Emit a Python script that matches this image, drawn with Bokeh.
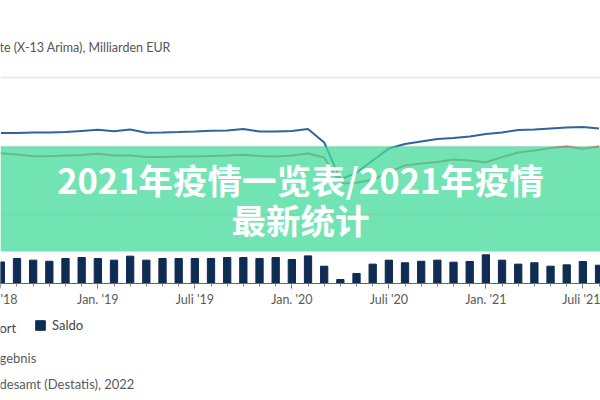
from bokeh.plotting import figure
from bokeh.models import (Range1d, FixedTicker, Label, BoxAnnotation, Legend,
                          LegendItem, Grid, ColumnDataSource)
from bokeh.embed import file_html
from bokeh.resources import INLINE

# ---- data (Milliarden EUR, saisonbereinigt) ----
months = ["2018-07", "2018-08", "2018-09", "2018-10", "2018-11", "2018-12",
          "2019-01", "2019-02", "2019-03", "2019-04", "2019-05", "2019-06",
          "2019-07", "2019-08", "2019-09", "2019-10", "2019-11", "2019-12",
          "2020-01", "2020-02", "2020-03", "2020-04", "2020-05", "2020-06",
          "2020-07", "2020-08", "2020-09", "2020-10", "2020-11", "2020-12",
          "2021-01", "2021-02", "2021-03", "2021-04", "2021-05", "2021-06",
          "2021-07", "2021-08"]
export = [109.5, 109.6, 110.0, 110.0, 110.3, 111.1,
          111.9, 110.9, 112.2, 109.8, 110.0, 110.3,
          110.7, 111.2, 111.4, 112.5, 110.7, 110.7,
          111.1, 112.5, 102.7, 75.8, 80.6, 89.6,
          98.3, 101.6, 103.4, 105.2, 106.0, 107.1,
          108.9, 110.0, 111.8, 112.2, 112.9, 113.6,
          114.0, 112.9]
importe = [94.9, 94.0, 92.7, 92.7, 93.2, 93.6,
           94.5, 93.2, 93.2, 92.1, 92.1, 92.5,
           92.5, 92.9, 93.2, 93.7, 92.9, 92.5,
           93.2, 94.7, 91.8, 72.9, 73.3, 75.5,
           81.3, 85.9, 87.4, 88.5, 90.3, 89.6,
           88.3, 92.0, 95.4, 96.9, 98.7, 99.8,
           98.1, 99.8]
saldo = [15.7, 18.2, 17.0, 16.2, 18.2, 18.9,
         18.2, 17.0, 19.9, 17.0, 18.2, 18.2,
         18.2, 18.2, 18.9, 18.9, 18.2, 18.9,
         17.5, 20.1, 12.6, 2.9, 7.3, 14.1,
         17.0, 15.1, 16.2, 17.0, 15.5, 16.0,
         20.9, 17.0, 14.1, 15.1, 12.6, 13.6,
         16.0, 13.3]
tick_months = ["2018-07", "2019-01", "2019-07", "2020-01", "2020-07", "2021-01", "2021-07"]
tick_labels = ["'18", "Jan. '19", "Juli '19", "Jan. '20", "Juli '20", "Jan. '21", "Juli '21"]
grid_values = [50, 100, 150]


def month_index(s):
    y, m = s.split("-")
    return (int(y) - 2019) * 12 + int(m) - 1


x = [month_index(m) for m in months]
src = ColumnDataSource(dict(x=x, export=export, importe=importe, saldo=saldo))

FONT = "Lato"
GRAY = "#5a5a5a"

p = figure(width=600, height=400, output_backend="svg", toolbar_location=None,
           x_range=Range1d(-6.02, 31.09), y_range=Range1d(-85.19, 206.07),
           min_border=0, y_axis_location=None, title=None,
           outline_line_color=None, background_fill_color="white",
           border_fill_color="white")

p.xgrid.visible = False
p.ygrid.visible = False
p.add_layout(Grid(dimension=1, ticker=FixedTicker(ticks=grid_values),
                  grid_line_color="#e4e4e4", grid_line_width=1.5))

r_sal = p.vbar(x="x", top="saldo", width=0.45, source=src, color="#0f2c52")
r_exp = p.line(x="x", y="export", source=src, line_width=2, color="#33639a")
r_imp = p.line(x="x", y="importe", source=src, line_width=2, color="#d9525e")

ax = p.xaxis[0]
ax.fixed_location = 0
major_x = [month_index(m) for m in tick_months]
ax.ticker = FixedTicker(ticks=major_x, minor_ticks=x)
ax.major_label_overrides = {t: l for t, l in zip(major_x, tick_labels)}
ax.axis_line_color = "#666666"
ax.major_tick_line_color = "#666666"
ax.minor_tick_line_color = "#888888"
ax.major_tick_out = 5
ax.major_tick_in = 0
ax.minor_tick_out = 3
ax.minor_tick_in = 0
ax.major_label_standoff = 3
ax.major_label_text_font = FONT
ax.major_label_text_font_size = "12.5px"
ax.major_label_text_color = GRAY

legend = Legend(items=[LegendItem(label="Saldo", renderers=[r_sal])],
                orientation="horizontal", location=(34, 67), padding=0, margin=0,
                spacing=21, glyph_width=12, glyph_height=12, label_standoff=6,
                label_height=12, label_text_font=FONT, label_text_font_size="13px",
                label_text_color="#444444", background_fill_alpha=0,
                border_line_color=None)
p.add_layout(legend)

p.add_layout(Label(x=-1, y=73, x_units="screen", y_units="screen",
                   text="ort", text_font=FONT,
                   text_font_size="13px", text_color="#444444", text_baseline="middle"))
p.add_layout(Label(x=-1, y=353, x_units="screen", y_units="screen",
                   text="te (X-13 Arima), Milliarden EUR", text_font=FONT,
                   text_font_size="12.5px", text_color="#555555", text_baseline="middle"))
p.add_layout(Label(x=-1, y=43, x_units="screen", y_units="screen",
                   text="gebnis", text_font=FONT,
                   text_font_size="13px", text_color=GRAY, text_baseline="middle"))
p.add_layout(Label(x=-1, y=17, x_units="screen", y_units="screen",
                   text="desamt (Destatis), 2022", text_font=FONT,
                   text_font_size="13px", text_color=GRAY, text_baseline="middle"))

# banner overlay
p.add_layout(BoxAnnotation(bottom=23.3, top=99.8, fill_color="#43db9b",
                           fill_alpha=0.75, line_color=None, level="overlay"))
p.add_layout(Label(x=300, y=222, x_units="screen", y_units="screen",
                   text="2021年疫情一览表/2021年疫情", text_font="Noto Sans CJK SC",
                   text_font_style="bold", text_font_size="34.5px", text_color="white",
                   text_align="center", text_baseline="middle", level="overlay"))
p.add_layout(Label(x=300, y=182, x_units="screen", y_units="screen",
                   text="最新统计", text_font="Noto Sans CJK SC",
                   text_font_style="bold", text_font_size="34.5px", text_color="white",
                   text_align="center", text_baseline="middle", level="overlay"))

open("out.html", "w").write(file_html(p, INLINE))
